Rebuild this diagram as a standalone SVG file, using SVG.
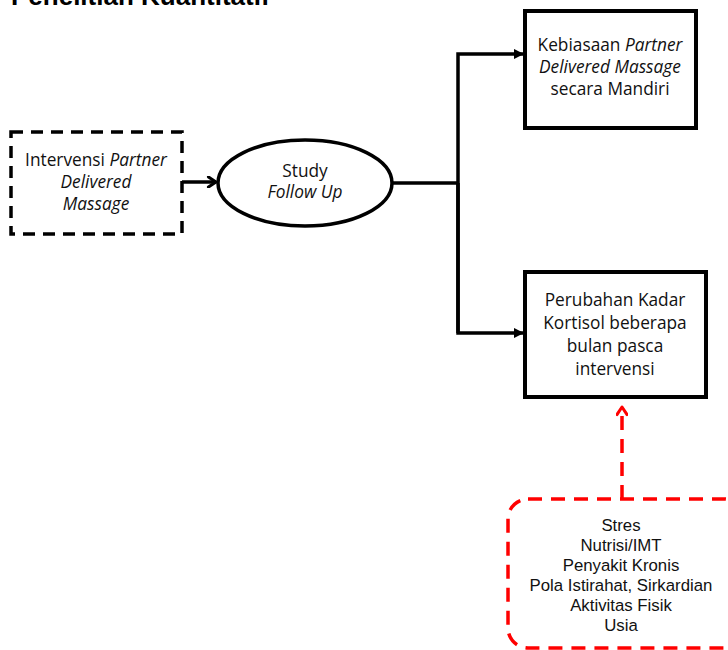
<svg xmlns="http://www.w3.org/2000/svg" width="728" height="650" viewBox="0 0 728 650">
  <style>
    .lbl { font-family: "Open Sans", "Liberation Sans", sans-serif; font-size: 17.3px; fill: #111; text-anchor: middle; }
    .it { font-style: italic; }
    .red-lbl { font-family: "Liberation Sans", Arial, sans-serif; font-size: 16.8px; fill: #111; text-anchor: middle; }
    .box { fill: #fff; stroke: #000; stroke-width: 4; }
    .edge { fill: none; stroke: #000; stroke-width: 3.5; }
  </style>
  <defs>
    <marker id="tri" viewBox="0 0 10 10" refX="9" refY="5" markerWidth="3" markerHeight="3" orient="auto" markerUnits="strokeWidth">
      <path d="M0,0 L10,5 L0,10 z" fill="#000"/>
    </marker>
    <marker id="chev" viewBox="0 0 10 10" refX="8" refY="5" markerWidth="3.6" markerHeight="3.6" orient="auto" markerUnits="strokeWidth">
      <path d="M2,1 L8,5 L2,9" fill="none" stroke="#000" stroke-width="2.4" stroke-linecap="round" stroke-linejoin="round"/>
    </marker>
    <marker id="chevRed" viewBox="0 0 10 10" refX="8" refY="5" markerWidth="3.6" markerHeight="3.6" orient="auto" markerUnits="strokeWidth">
      <path d="M2,1 L8,5 L2,9" fill="none" stroke="#f00" stroke-width="2.4" stroke-linecap="round" stroke-linejoin="round"/>
    </marker>
  </defs>

  <rect width="728" height="650" fill="#fff"/>

  <!-- heading, partly above the top edge -->
  <text x="11" y="5" font-family="Liberation Sans, Arial, sans-serif" font-weight="bold" font-size="26" fill="#000">Penelitian Kuantitatif</text>

  <g id="connectors">
    <line class="edge" x1="182" y1="182" x2="216" y2="182" marker-end="url(#chev)"/>
    <polyline class="edge" points="392,183 458,183"/>
    <polyline class="edge" points="458,333 458,54 523,54" marker-end="url(#tri)"/>
    <polyline class="edge" points="458,183 458,333 523,333" marker-end="url(#tri)"/>
    <line x1="622" y1="499" x2="622" y2="407" stroke="#f00" stroke-width="3.5" stroke-dasharray="14,9" marker-end="url(#chevRed)"/>
  </g>

  <g id="intervensi">
    <rect x="11" y="132" width="171" height="102" fill="#fff" stroke="#000" stroke-width="3.5" stroke-dasharray="12,8"/>
    <text class="lbl" x="96" y="166">Intervensi <tspan class="it">Partner</tspan></text>
    <text class="lbl it" x="96" y="188">Delivered</text>
    <text class="lbl it" x="96" y="210">Massage</text>
  </g>

  <g id="study">
    <ellipse cx="305" cy="183" rx="87" ry="43" fill="#fff" stroke="#000" stroke-width="3.5"/>
    <text class="lbl" x="305" y="177">Study</text>
    <text class="lbl it" x="305" y="198">Follow Up</text>
  </g>

  <g id="kebiasaan">
    <rect class="box" x="525" y="11" width="171" height="117"/>
    <text class="lbl" x="610" y="51">Kebiasaan <tspan class="it">Partner</tspan></text>
    <text class="lbl it" x="610" y="73">Delivered Massage</text>
    <text class="lbl" x="610" y="95">secara Mandiri</text>
  </g>

  <g id="kortisol">
    <rect class="box" x="525" y="272" width="181" height="125"/>
    <text class="lbl" x="615" y="306">Perubahan Kadar</text>
    <text class="lbl" x="615" y="329">Kortisol beberapa</text>
    <text class="lbl" x="615" y="352">bulan pasca</text>
    <text class="lbl" x="615" y="375">intervensi</text>
  </g>

  <g id="faktor">
    <rect x="508" y="499" width="236" height="149" rx="20" ry="20" fill="none" stroke="#f00" stroke-width="3.5" stroke-dasharray="14,9"/>
    <text class="red-lbl" x="621" y="531">Stres</text>
    <text class="red-lbl" x="621" y="551">Nutrisi/IMT</text>
    <text class="red-lbl" x="621" y="571">Penyakit Kronis</text>
    <text class="red-lbl" x="621" y="591">Pola Istirahat, Sirkardian</text>
    <text class="red-lbl" x="621" y="611">Aktivitas Fisik</text>
    <text class="red-lbl" x="621" y="631">Usia</text>
  </g>
</svg>
